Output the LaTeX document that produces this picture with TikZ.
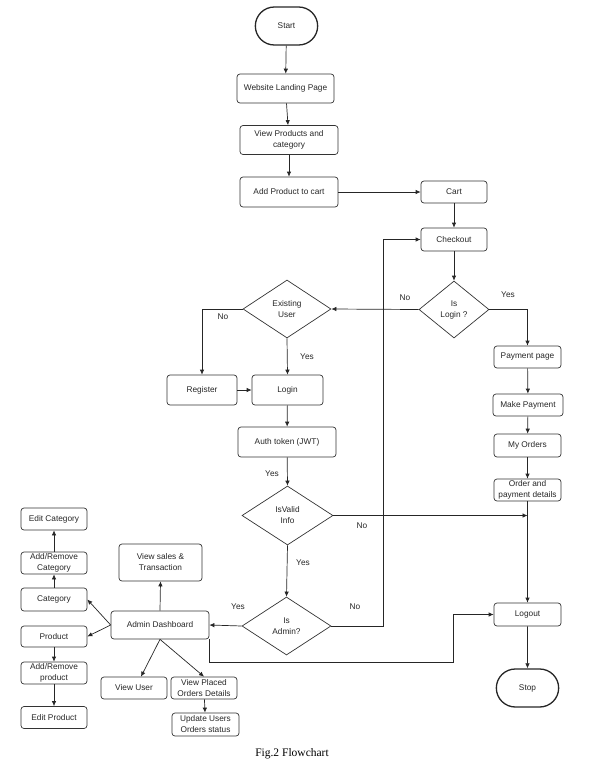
\documentclass[tikz,border=0pt]{standalone}
\usepackage{fontspec}
\setmainfont{Liberation Sans}
\newfontfamily\captionfont{Liberation Serif}
\usetikzlibrary{arrows.meta, calc, shapes.geometric, shapes.misc}

\begin{document}
\begin{tikzpicture}[x=1pt, y=-1pt, >={Latex[length=5pt, width=4.5pt]},
  every node/.style={font=\fontsize{8.3}{11}\selectfont, text=black!85},
  box/.style={draw=black!80, line width=0.7pt, rounded corners=3pt, align=center, inner sep=1pt, minimum width=66pt, minimum height=22pt},
  term/.style={draw=black!85, line width=1.3pt, rounded rectangle, minimum width=69pt, minimum height=38pt},
  decision/.style={draw=black!80, line width=0.7pt, diamond, align=center, inner sep=0pt},
  flow/.style={->, draw=black!85, line width=0.7pt},
  lbl/.style={inner sep=0pt}]
\useasboundingbox (0,0) rectangle (592,777);

% Main column
\node[term] (start) at (286.5,26) {Start};
\node[box, minimum width=97pt, minimum height=29pt] (landing) at (285.5,88.5) {Website Landing Page};
\node[box, minimum width=98pt, minimum height=29pt] (viewProd) at (289,140) {View Products and\\category};
\node[box, minimum width=98pt, minimum height=30pt] (addCart) at (289,192) {Add Product to cart};
\node[box] (cart) at (454,192) {Cart};
\node[box, minimum height=23pt] (checkout) at (454,239.5) {Checkout};
\node[decision, minimum width=70pt, minimum height=57pt] (isLogin) at (454,309.5) {Is\\Login ?};

% Login branch
\node[decision, minimum width=88pt, minimum height=58pt] (existUser) at (287,309) {Existing\\User};
\node[box, minimum width=70pt, minimum height=30pt] (register) at (202,390) {Register};
\node[box, minimum width=71pt, minimum height=30pt] (login) at (287.5,390) {Login};
\node[box, minimum width=98pt, minimum height=30pt] (authToken) at (287,442) {Auth token (JWT)};
\node[decision, minimum width=91pt, minimum height=59pt] (isValid) at (287.5,515.5) {IsValid\\Info};
\node[decision, minimum width=89pt, minimum height=58pt] (isAdmin) at (286.5,626) {Is\\Admin?};

% Payment column
\node[box, minimum width=67pt] (payPage) at (527.5,357) {Payment page};
\node[box, minimum width=70pt] (makePay) at (528,405) {Make Payment};
\node[box, minimum width=67pt, minimum height=23pt] (myOrders) at (527.5,445.5) {My Orders};
\node[box, minimum width=67pt] (orderDet) at (527.5,490) {Order and\\payment details};
\node[box, minimum width=67pt, minimum height=23pt] (logout) at (527.5,614.5) {Logout};
\node[term] (stop) at (527.5,688) {Stop};

% Admin part
\node[box, minimum width=98pt, minimum height=28pt] (adminDash) at (160,625) {Admin Dashboard};
\node[box, minimum width=83pt, minimum height=37pt] (viewSales) at (160.5,562.5) {View sales \&\\Transaction};
\node[box] (viewUser) at (134,688) {View User};
\node[box] (viewPlaced) at (204,688) {View Placed\\Orders Details};
\node[box, minimum width=67pt, minimum height=23pt] (updStatus) at (205.5,724.5) {Update Users\\Orders status};
\node[box] (editCat) at (54,519) {Edit Category};
\node[box] (addRemCat) at (54,563) {Add/Remove\\Category};
\node[box, minimum height=23pt] (category) at (54,599.5) {Category};
\node[box, minimum height=21pt] (product) at (54,636.5) {Product};
\node[box] (addRemProd) at (54,673) {Add/Remove\\product};
\node[box] (editProd) at (54,717.5) {Edit Product};

% Bends
\coordinate (adminNoBend) at (383,626);
\coordinate (adminBend) at (453,662);

% Arrows
\draw[flow] (start) -- (landing);
\draw[flow] (landing) -- (viewProd);
\draw[flow] (viewProd) -- (addCart);
\draw[flow] (addCart) -- (cart);
\draw[flow] (cart) -- (checkout);
\draw[flow] (checkout) -- (isLogin);
\draw[flow] (isLogin.west) -- (existUser.east);
\draw[flow] (isLogin.east) -| (payPage.north);
\draw[flow] (existUser.west) -| (register.north);
\draw[flow] (existUser.south) -- (login.north);
\draw[flow] (register) -- (login);
\draw[flow] (login) -- (authToken);
\draw[flow] (authToken) -- (isValid.north);
\draw[flow] (isValid.east) -- (isValid.east -| orderDet.south);
\draw[flow] (isValid.south) -- (isAdmin.north);
\draw[flow] (isAdmin.west) -- (adminDash.east);
\draw[flow] (isAdmin.east) -- (adminNoBend) |- (checkout.west);
\draw[flow] (payPage) -- (makePay);
\draw[flow] (makePay) -- (myOrders);
\draw[flow] (myOrders) -- (orderDet);
\draw[flow] (orderDet) -- (logout);
\draw[flow] (logout) -- (stop);
\draw[flow] (adminDash.south east) |- (adminBend) |- (logout.west);
\draw[flow] (adminDash.north) -- (viewSales.south);
\draw[flow] (adminDash.west) -- (category.east);
\draw[flow] (adminDash.west) -- (product.east);
\draw[flow] (category) -- (addRemCat);
\draw[flow] (addRemCat) -- (editCat);
\draw[flow] (product) -- (addRemProd);
\draw[flow] (addRemProd) -- (editProd);
\draw[flow] (adminDash.south) -- ([xshift=7pt]viewUser.north);
\draw[flow] (adminDash.south) -- (viewPlaced.north);
\draw[flow] (viewPlaced) -- (updStatus);

% Labels
\node[lbl] (noLogin) at (405,298) {No};
\node[lbl] (yesLogin) at (508,295) {Yes};
\node[lbl] (noUser) at (223,317) {No};
\node[lbl] (yesUser) at (307,357) {Yes};
\node[lbl] (yesToken) at (272,474) {Yes};
\node[lbl] (noValid) at (362,526) {No};
\node[lbl] (yesValid) at (303,563) {Yes};
\node[lbl] (yesAdmin) at (238,607) {Yes};
\node[lbl] (noAdmin) at (355,607) {No};

% Caption
\node[font=\captionfont\fontsize{11.5}{13}\selectfont, text=black] (caption) at (292,754) {Fig.2 Flowchart};
\end{tikzpicture}
\end{document}
